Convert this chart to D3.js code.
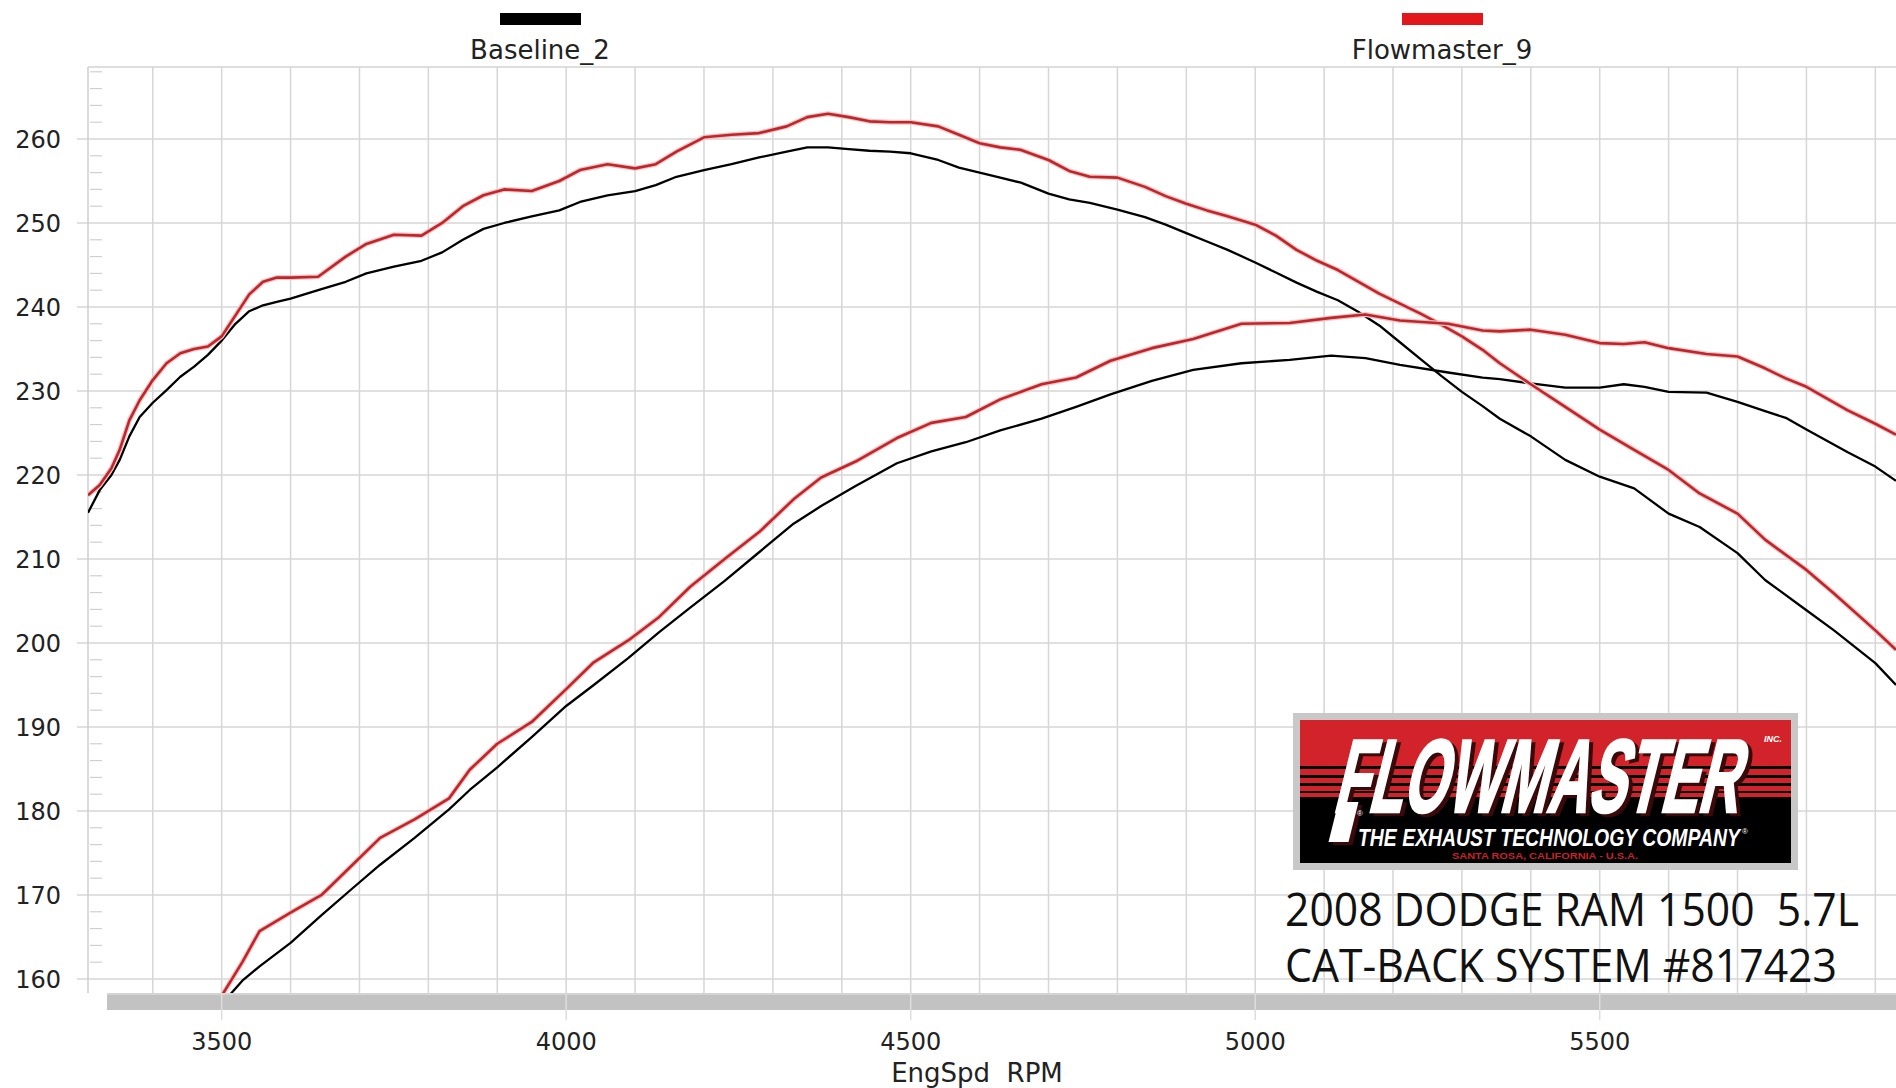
<!DOCTYPE html>
<html>
<head>
<meta charset="utf-8">
<script src="https://cdn.jsdelivr.net/npm/d3@7"></script>
<style>
  html, body { margin: 0; padding: 0; background: #fff; }
  svg { display: block; }
</style>
</head>
<body>
<script>
// torque runs (full sweep)
var torqueRpm = [3306, 3323, 3340, 3352, 3366, 3381, 3400, 3420, 3440, 3460, 3480, 3500, 3520, 3540, 3560, 3580, 3600, 3640, 3680, 3710, 3750, 3790, 3820, 3850, 3880, 3910, 3950, 3990, 4020, 4060, 4100, 4130, 4160, 4200, 4240, 4280, 4320, 4350, 4380, 4410, 4440, 4470, 4500, 4540, 4570, 4600, 4630, 4660, 4700, 4730, 4760, 4800, 4840, 4870, 4900, 4930, 4960, 5000, 5030, 5060, 5090, 5120, 5150, 5180, 5210, 5240, 5270, 5300, 5330, 5355, 5400, 5450, 5500, 5550, 5600, 5645, 5700, 5740, 5800, 5840, 5900, 5930];
var baselineTorque = [215.5, 218.2, 220, 221.8, 224.6, 226.9, 228.6, 230.1, 231.7, 232.9, 234.3, 236, 238, 239.5, 240.2, 240.6, 241, 242, 243, 244, 244.8, 245.5, 246.5, 248, 249.3, 250, 250.8, 251.5, 252.5, 253.3, 253.8, 254.5, 255.5, 256.3, 257, 257.8, 258.5, 259, 259, 258.8, 258.6, 258.5, 258.3, 257.5, 256.6, 256, 255.4, 254.8, 253.5, 252.8, 252.4, 251.6, 250.7, 249.8, 248.8, 247.8, 246.8, 245.3, 244.1, 242.9, 241.8, 240.8, 239.4, 237.8, 235.8, 233.8, 231.8, 229.9, 228.2, 226.7, 224.6, 221.8, 219.8, 218.4, 215.4, 213.8, 210.7, 207.5, 203.9, 201.5, 197.6, 195];
var flowmasterTorque = [217.6, 218.8, 220.8, 223, 226.5, 228.9, 231.3, 233.3, 234.5, 235, 235.3, 236.5, 239, 241.5, 243, 243.5, 243.5, 243.6, 246, 247.5, 248.6, 248.5, 250, 252, 253.3, 254, 253.8, 255, 256.3, 257, 256.5, 257, 258.5, 260.2, 260.5, 260.7, 261.5, 262.6, 263, 262.6, 262.1, 262, 262, 261.5, 260.5, 259.5, 259, 258.7, 257.5, 256.2, 255.5, 255.4, 254.3, 253.2, 252.3, 251.5, 250.8, 249.8, 248.5, 246.8, 245.5, 244.4, 243, 241.6, 240.4, 239.2, 237.9, 236.5, 234.9, 233.3, 230.8, 228.1, 225.4, 223, 220.6, 217.8, 215.4, 212.3, 208.7, 205.9, 201.5, 199.2];

// horsepower runs (start below the visible range)
var hpRpm = [3500, 3530, 3555, 3600, 3645, 3690, 3730, 3780, 3830, 3860, 3900, 3950, 4000, 4040, 4090, 4135, 4180, 4230, 4280, 4330, 4370, 4420, 4480, 4530, 4580, 4630, 4690, 4740, 4790, 4850, 4910, 4980, 5050, 5110, 5160, 5210, 5280, 5330, 5355, 5400, 5450, 5500, 5535, 5565, 5600, 5655, 5700, 5740, 5770, 5800, 5860, 5900, 5930];
var baselineHp = [157, 159.8, 161.5, 164.3, 167.6, 170.8, 173.6, 176.8, 180.2, 182.5, 185.2, 188.8, 192.5, 195, 198.2, 201.3, 204.2, 207.4, 210.8, 214.2, 216.3, 218.7, 221.4, 222.8, 223.9, 225.3, 226.7, 228.1, 229.6, 231.2, 232.5, 233.3, 233.7, 234.2, 233.9, 233.1, 232.2, 231.6, 231.4, 230.9, 230.4, 230.4, 230.8, 230.5, 229.9, 229.8, 228.7, 227.6, 226.8, 225.4, 222.7, 221, 219.3];
var flowmasterHp = [158, 162, 165.7, 167.9, 170, 173.6, 176.8, 179, 181.5, 184.9, 188, 190.6, 194.5, 197.7, 200.3, 203.1, 206.7, 210, 213.2, 217.1, 219.7, 221.6, 224.4, 226.2, 226.9, 229, 230.8, 231.6, 233.6, 235.1, 236.2, 238, 238.1, 238.7, 239.1, 238.4, 238, 237.2, 237.1, 237.3, 236.7, 235.7, 235.6, 235.8, 235.1, 234.4, 234.1, 232.7, 231.5, 230.5, 227.7, 226.1, 224.8];

var xTicks = [3500, 4000, 4500, 5000, 5500];
var yTicks = [160, 170, 180, 190, 200, 210, 220, 230, 240, 250, 260];
var seriesNames = ["Baseline_2", "Flowmaster_9"];
var seriesColors = ["#000000", "#bd262b"];
var legendColors = ["#000000", "#e3161c"];

(function(){
  var width = 1896, height = 1088;
  var left = 88, top = 67, bottom = 993;

  var svg = d3.select("body").append("svg")
    .attr("width", width)
    .attr("height", height);

  var x = d3.scaleLinear().domain([3306, 5930]).range([left, width]);
  var y = d3.scaleLinear().domain([158.33, 268.57]).range([bottom, top]);

  var tickFont = "'DejaVu Sans', sans-serif";

  // vertical grid every 100 rpm
  svg.append("g").selectAll("line")
    .data(d3.range(3400, 5901, 100))
    .join("line")
    .attr("x1", d => x(d)).attr("x2", d => x(d))
    .attr("y1", top).attr("y2", bottom)
    .style("stroke", "#d6d6d6").style("stroke-width", 1.5);

  // horizontal grid
  svg.append("g").selectAll("line")
    .data(yTicks)
    .join("line")
    .attr("x1", left - 11).attr("x2", width)
    .attr("y1", d => y(d)).attr("y2", d => y(d))
    .style("stroke", "#d6d6d6").style("stroke-width", 1.5);

  // minor ticks on left edge
  svg.append("g").selectAll("line")
    .data(d3.range(160, 269, 2).filter(d => d % 10 !== 0))
    .join("line")
    .attr("x1", left + 2).attr("x2", left + 14)
    .attr("y1", d => y(d)).attr("y2", d => y(d))
    .style("stroke", "#d0d0d0").style("stroke-width", 1.2);

  // plot frame
  svg.append("line")
    .attr("x1", left).attr("x2", left).attr("y1", top).attr("y2", bottom)
    .style("stroke", "#cfcfcf").style("stroke-width", 1.5);
  svg.append("line")
    .attr("x1", left).attr("x2", width).attr("y1", top).attr("y2", top)
    .style("stroke", "#d3d3d3").style("stroke-width", 1.5);

  // scroll bar strip along the bottom
  svg.append("rect")
    .attr("x", 107).attr("y", bottom).attr("width", width - 107).attr("height", 17)
    .style("fill", "#c2c2c2");
  svg.append("line")
    .attr("x1", 107).attr("x2", width).attr("y1", bottom + 1).attr("y2", bottom + 1)
    .style("stroke", "#d4d4d4").style("stroke-width", 2);

  // major x ticks below the strip
  svg.append("g").selectAll("line")
    .data(xTicks)
    .join("line")
    .attr("x1", d => x(d)).attr("x2", d => x(d))
    .attr("y1", bottom).attr("y2", 1020)
    .style("stroke", "#dddddd").style("stroke-width", 1.5);

  // axis labels
  svg.append("g").selectAll("text")
    .data(yTicks)
    .join("text")
    .attr("x", 61).attr("y", d => y(d))
    .attr("dy", "0.36em")
    .attr("text-anchor", "end")
    .style("font-family", tickFont).style("font-size", "24px").style("fill", "#222")
    .text(d => d);

  svg.append("g").selectAll("text")
    .data(xTicks)
    .join("text")
    .attr("x", d => x(d)).attr("y", 1050)
    .attr("text-anchor", "middle")
    .style("font-family", tickFont).style("font-size", "24px").style("fill", "#222")
    .text(d => d);

  svg.append("text")
    .attr("x", 977).attr("y", 1082)
    .attr("text-anchor", "middle")
    .style("font-family", tickFont).style("font-size", "26px").style("fill", "#222")
    .style("white-space", "pre")
    .text("EngSpd  RPM");

  // legend
  var legendX = [540, 1442];
  seriesNames.forEach(function(name, i) {
    svg.append("rect")
      .attr("x", legendX[i] - 40).attr("y", 13).attr("width", 81).attr("height", 12)
      .style("fill", legendColors[i]);
    svg.append("text")
      .attr("x", legendX[i]).attr("y", 59)
      .attr("text-anchor", "middle")
      .style("font-family", tickFont).style("font-size", "26px").style("fill", "#222")
      .text(name);
  });

  // Flowmaster logo
  var logo = svg.append("g");
  logo.append("rect")
    .attr("x", 1293).attr("y", 713).attr("width", 505).attr("height", 157)
    .style("fill", "#c8c8c8");
  logo.append("rect")
    .attr("x", 1300).attr("y", 720).attr("width", 491).attr("height", 143)
    .style("fill", "#000");
  logo.append("rect")
    .attr("x", 1300).attr("y", 720).attr("width", 491).attr("height", 46)
    .style("fill", "#d2232a");
  [[769, 6], [778, 5], [786, 5], [793, 4]].forEach(function(b) {
    logo.append("rect")
      .attr("x", 1300).attr("y", b[0]).attr("width", 491).attr("height", b[1])
      .style("fill", "#d2232a");
  });

  function logoWord(dx, dy, color) {
    var g = logo.append("g")
      .attr("transform", "translate(" + (1332 + dx) + "," + (812 + dy) + ") skewX(-14)");
    // long stem of the F
    g.append("path")
      .attr("d", "M4,-10 L24,-10 L24,30 L4,30 Z")
      .style("fill", color);
    g.append("text")
      .attr("textLength", 405)
      .attr("lengthAdjust", "spacingAndGlyphs")
      .style("font-family", "'Liberation Sans', Arial, sans-serif")
      .style("font-weight", "bold")
      .style("font-size", "104px")
      .style("fill", color)
      .style("stroke", color).style("stroke-width", 2.5)
      .text("FLOWMASTER");
  }
  logoWord(4, 3, "#3a0a0a");
  logoWord(0, 0, "#ffffff");

  logo.append("text")
    .attr("x", 1764).attr("y", 742)
    .style("font-family", "'Liberation Sans', Arial, sans-serif")
    .style("font-weight", "bold").style("font-style", "italic")
    .style("font-size", "9px").style("fill", "#fff")
    .text("INC.");
  logo.append("text")
    .attr("x", 1358).attr("y", 846)
    .attr("textLength", 382).attr("lengthAdjust", "spacingAndGlyphs")
    .style("font-family", "'Liberation Sans', Arial, sans-serif")
    .style("font-weight", "bold").style("font-style", "italic")
    .style("font-size", "23px").style("fill", "#fff")
    .text("THE EXHAUST TECHNOLOGY COMPANY");
  logo.append("text")
    .attr("x", 1742).attr("y", 834)
    .style("font-family", "'Liberation Sans', Arial, sans-serif")
    .style("font-size", "8px").style("fill", "#fff")
    .text("®");
  logo.append("text")
    .attr("x", 1357).attr("y", 816)
    .style("font-family", "'Liberation Sans', Arial, sans-serif")
    .style("font-size", "8px").style("fill", "#fff")
    .text("®");
  logo.append("text")
    .attr("x", 1452).attr("y", 859)
    .attr("textLength", 186).attr("lengthAdjust", "spacingAndGlyphs")
    .style("font-family", "'Liberation Sans', Arial, sans-serif")
    .style("font-weight", "bold")
    .style("font-size", "9.5px").style("fill", "#c8202a")
    .text("SANTA ROSA, CALIFORNIA - U.S.A.");

  // vehicle caption
  var caption = [["2008 DODGE RAM 1500  5.7L", 926, 574], ["CAT-BACK SYSTEM #817423", 982, 552]];
  caption.forEach(function(c) {
    svg.append("text")
      .attr("x", 1285).attr("y", c[1])
      .attr("textLength", c[2]).attr("lengthAdjust", "spacingAndGlyphs")
      .style("font-family", "'Open Sans', 'Noto Sans', sans-serif")
      .style("font-size", "46px").style("fill", "#111")
      .style("white-space", "pre")
      .text(c[0]);
  });

  // curves
  svg.append("clipPath").attr("id", "plotClip")
    .append("rect").attr("x", left).attr("y", top).attr("width", width - left).attr("height", bottom - top);

  var curves = svg.append("g").attr("clip-path", "url(#plotClip)");

  var line = d3.line()
    .x(d => x(d[0]))
    .y(d => y(d[1]));

  var runs = [
    { rpm: torqueRpm, values: baselineTorque, series: 0 },
    { rpm: hpRpm, values: baselineHp, series: 0 },
    { rpm: torqueRpm, values: flowmasterTorque, series: 1 },
    { rpm: hpRpm, values: flowmasterHp, series: 1 }
  ];

  runs.forEach(function(r) {
    var pts = r.rpm.map((d, i) => [d, r.values[i]]);
    if (r.series === 1) {
      curves.append("path")
        .attr("d", line(pts))
        .style("fill", "none")
        .style("stroke", "#f4c2c2")
        .style("stroke-width", 5)
        .style("stroke-linejoin", "round");
    }
    curves.append("path")
      .attr("d", line(pts))
      .style("fill", "none")
      .style("stroke", seriesColors[r.series])
      .style("stroke-width", r.series === 1 ? 2.6 : 2.3)
      .style("stroke-linejoin", "round");
  });
})();
</script>
</body>
</html>
